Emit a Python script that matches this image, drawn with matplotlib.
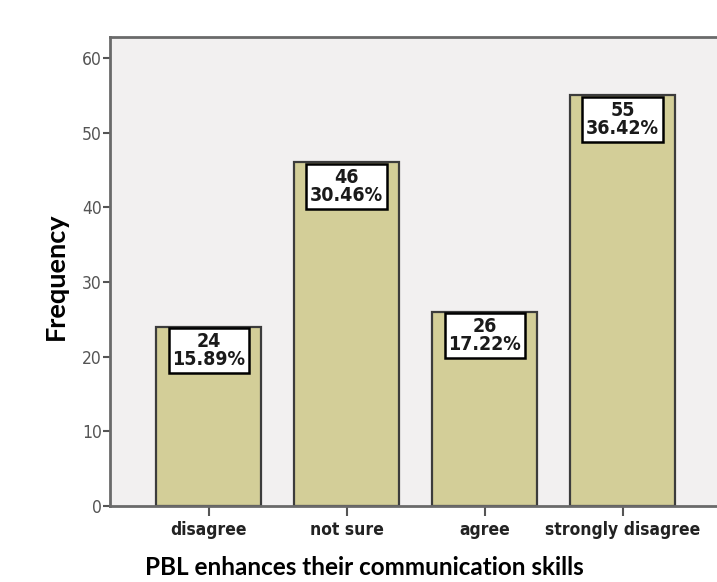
import matplotlib
matplotlib.use("Agg")
import matplotlib.pyplot as plt
import numpy as np

categories = ["disagree", "not sure", "agree", "strongly disagree"]
counts = [24, 46, 26, 55]
percents = ["15.89%", "30.46%", "17.22%", "36.42%"]

cond = dict(family="DejaVu Sans", stretch="condensed")
wide = dict(family="Lato", fontweight="bold")

fig = plt.figure(figsize=(7.17, 5.82), dpi=100)
ax = fig.add_axes([0.1534, 0.1306, 0.846, 0.8058])
ax.set_facecolor("#f2f0f0")

x = np.arange(len(categories))
ax.bar(x, counts, width=0.76, color="#d3ce98", edgecolor="#3c3c3c", linewidth=1.6)

for xi, c, p in zip(x, counts, percents):
    ax.annotate(f"{c}\n{p}", (xi, c), xytext=(0, -4), textcoords="offset points",
                ha="center", va="top", fontsize=14, fontweight="bold",
                color="#1a1a1a", linespacing=0.92,
                bbox=dict(boxstyle="square,pad=0.2", fc="white", ec="black", lw=1.8),
                **cond)

ax.set_xlim(-0.717, 3.68)
ax.set_ylim(0, 62.8)
ax.set_yticks([0, 10, 20, 30, 40, 50, 60])
ax.set_xticks(x, categories)

for lbl in ax.get_xticklabels():
    lbl.set_family("DejaVu Sans")
    lbl.set_stretch("condensed")
    lbl.set_fontweight("bold")
    lbl.set_fontsize(12.5)
    lbl.set_color("#222222")
for lbl in ax.get_yticklabels():
    lbl.set_family("DejaVu Sans")
    lbl.set_stretch("condensed")
    lbl.set_fontsize(12.5)
    lbl.set_color("#555555")

ax.tick_params(axis="y", direction="out", length=5, width=1.5, color="#555555", pad=1)
ax.tick_params(axis="x", direction="out", length=7, width=1.5, color="#555555", pad=4)

for side in ["left", "bottom", "top"]:
    ax.spines[side].set_color("#6a6a6a")
    ax.spines[side].set_linewidth(2)
ax.spines["right"].set_visible(False)

ax.set_ylabel("Frequency", fontsize=19.5, **wide)
ax.yaxis.set_label_coords(-0.069, 0.49)
ax.set_xlabel("PBL enhances their communication skills", fontsize=17.5, **wide)
ax.xaxis.set_label_coords(0.42, -0.107)

fig.savefig("out.png", dpi=100)
